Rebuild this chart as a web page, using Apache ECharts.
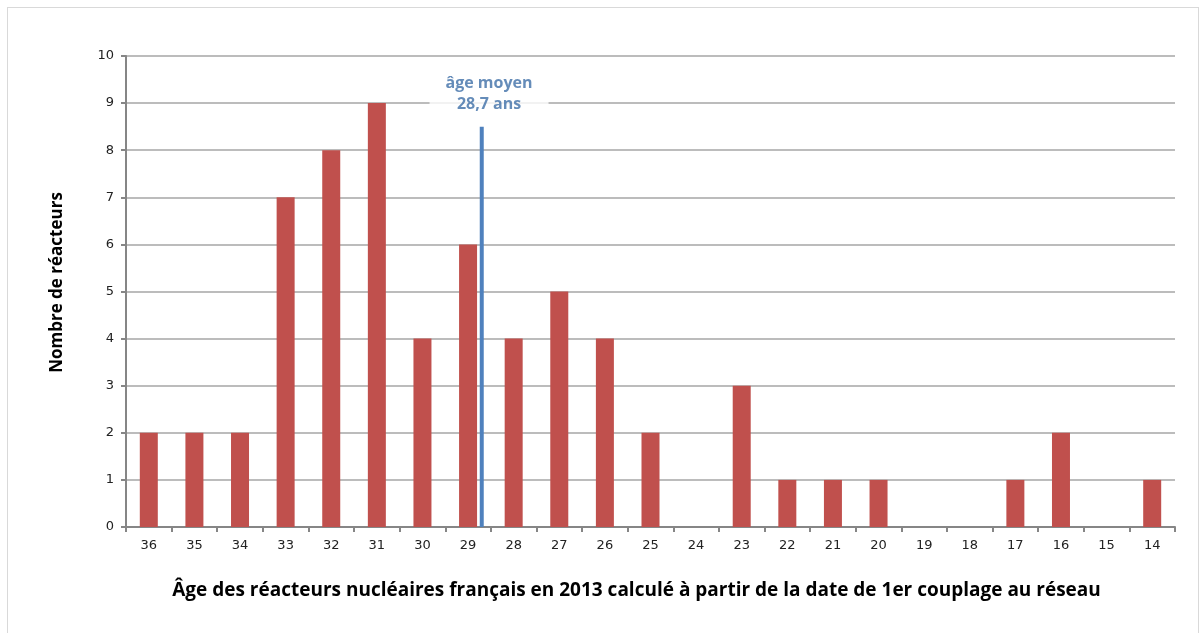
<!DOCTYPE html>
<html lang="fr">
<head>
    <meta charset="UTF-8">
    <title>Âge des réacteurs</title>
    <style>
        body{margin:0;background:#fff;}
        #frame{position:absolute;left:7px;top:7px;width:1190px;height:640px;border:1px solid #d9d9d9;}
    </style>
</head>
<body>
<div id="frame"></div>
<div id="main" style="position:absolute;left:0;top:0;width:1204px;height:633px;"></div>
<script src="https://cdn.jsdelivr.net/npm/echarts@6/dist/echarts.min.js"></script>
<script>
    var ages = ['36','35','34','33','32','31','30','29','28','27','26','25','24','23','22','21','20','19','18','17','16','15','14'];
    var reacteurs = [2,2,2,7,8,9,4,6,4,5,4,2,0,3,1,1,1,0,0,1,2,0,1];
    var ageMoyen = 28.7;
    var ligneHaut = 8.5;
    var etiquette = [28.54, 9.2];

    var myChart = echarts.init(document.getElementById('main'));
    var option = {
        backgroundColor: 'transparent',
        animation: false,
        grid: {left: 126, right: 29, top: 56, bottom: 106},
        xAxis: [
            {
                type: 'category',
                data: ages,
                name: 'Âge des réacteurs nucléaires français en 2013 calculé à partir de la date de 1er couplage au réseau',
                nameLocation: 'middle',
                nameGap: 54,
                nameTextStyle: {fontFamily: 'Open Sans', fontWeight: 'bold', fontSize: 19, color: '#000', padding: [0, 28, 0, 0]},
                axisLine: {lineStyle: {color: '#868686', width: 2}},
                axisTick: {show: true, length: 5, lineStyle: {color: '#868686', width: 2}},
                axisLabel: {fontFamily: 'DejaVu Sans', fontSize: 13, color: '#222', margin: 12}
            },
            {
                // axe caché pour placer l'âge moyen entre deux catégories
                type: 'value',
                show: false,
                inverse: true,
                min: 13.5,
                max: 36.5
            }
        ],
        yAxis: {
            type: 'value',
            min: 0,
            max: 10,
            interval: 1,
            name: 'Nombre de réacteurs',
            nameLocation: 'middle',
            nameGap: 60,
            nameTextStyle: {fontFamily: 'Open Sans', fontWeight: 'bold', fontSize: 17, color: '#000', padding: [0, 0, 0, 18]},
            axisLine: {show: true, lineStyle: {color: '#868686', width: 2}},
            axisTick: {show: true, length: 5, lineStyle: {color: '#868686', width: 2}},
            axisLabel: {fontFamily: 'DejaVu Sans', fontSize: 13, color: '#222', margin: 12},
            splitLine: {lineStyle: {color: '#a6a6a6', width: 1.5}}
        },
        series: [
            {
                type: 'bar',
                data: reacteurs,
                barWidth: 18,
                itemStyle: {color: '#c0504d'}
            },
            {
                type: 'line',
                xAxisIndex: 1,
                data: [[ageMoyen, 0], [ageMoyen, ligneHaut]],
                symbol: 'none',
                lineStyle: {color: '#4f81bd', width: 4}
            },
            {
                type: 'scatter',
                xAxisIndex: 1,
                data: [etiquette],
                symbolSize: 0,
                label: {
                    show: true,
                    position: 'inside',
                    formatter: 'âge moyen\n28,7 ans',
                    fontFamily: 'Open Sans',
                    fontWeight: 'bold',
                    fontSize: 16,
                    lineHeight: 21,
                    color: '#3f6fa8',
                    backgroundColor: '#fff',
                    padding: [2, 16]
                }
            }
        ]
    };
    myChart.setOption(option);
</script>
</body>
</html>
